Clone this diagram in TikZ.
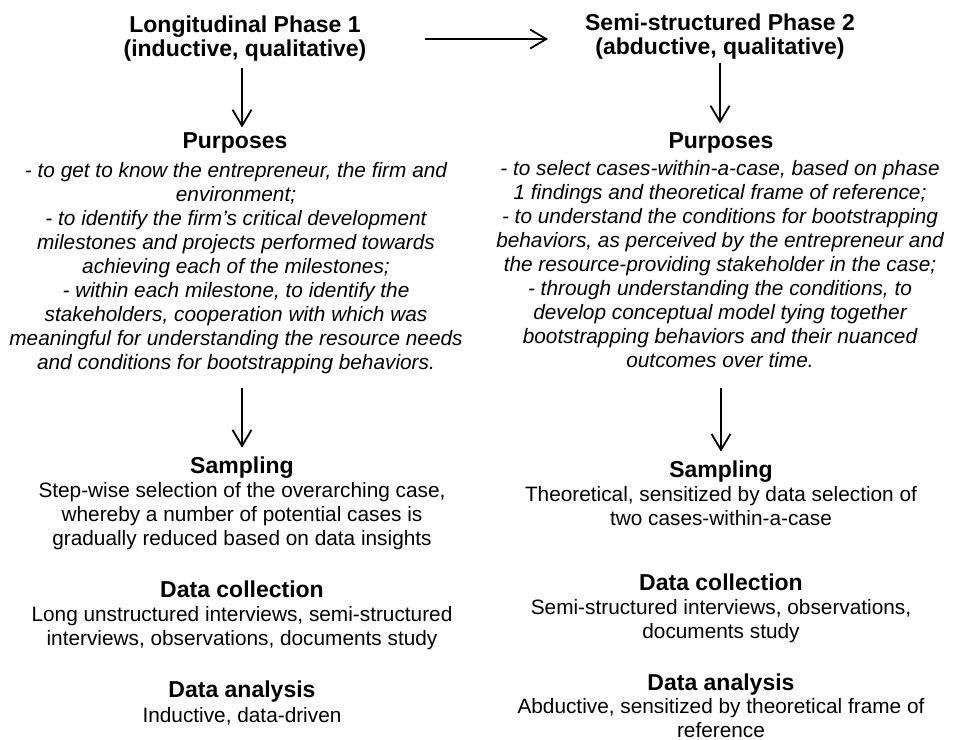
\documentclass[tikz,border=0pt]{standalone}
\usepackage{fontspec}
\setmainfont{Liberation Sans}
\usepackage{tikz}
\usetikzlibrary{
	arrows.meta,
	positioning,
	calc
}
\tikzset{
  % arrow
	cstra/.style      ={-{Straight Barb[length=16bp,width=19bp]}, line width=1.8bp}, % open arrow
  % node (anchored at the baseline of the last line)
	csthead/.style    ={inner sep=0pt, anchor=base, align=center, font=\fontsize{23bp}{24bp}\selectfont\bfseries}, % bold heading
	csttext/.style    ={inner sep=0pt, anchor=base, align=center, font=\fontsize{20.8bp}{24bp}\selectfont}, % plain text
	cstitem/.style    ={csttext, font=\fontsize{20.8bp}{24bp}\selectfont\itshape} % italic list
}

\begin{document}
\begin{tikzpicture}[x=1bp,y=-1bp]
	\useasboundingbox (0,0) rectangle (953,740);
	% phase 1
	\node[csthead] (title1) at (245,57) {Longitudinal Phase 1\\(inductive, qualitative)};
	\node[csthead] (purp1) at (235,148) {Purposes};
	\node[cstitem] (purp1t) at (236,369) {- to get to know the entrepreneur, the firm and\\
		environment;\\
		- to identify the firm’s critical development\\
		milestones and projects performed towards\\
		achieving each of the milestones;\\
		- within each milestone, to identify the\\
		stakeholders, cooperation with which was\\
		meaningful for understanding the resource needs\\
		and conditions for bootstrapping behaviors.};
	\node[csthead] (samp1) at (242,473) {Sampling};
	\node[csttext] (samp1t) at (242,545) {Step-wise selection of the overarching case,\\
		whereby a number of potential cases is\\
		gradually reduced based on data insights};
	\node[csthead] (coll1) at (242,597) {Data collection};
	\node[csttext] (coll1t) at (242,645) {Long unstructured interviews, semi-structured\\
		interviews, observations, documents study};
	\node[csthead] (anal1) at (242,697) {Data analysis};
	\node[csttext] (anal1t) at (242,722) {Inductive, data-driven};
	% phase 2
	\node[csthead] (title2) at (720,55) {Semi-structured Phase 2\\(abductive, qualitative)};
	\node[csthead] (purp2) at (721,148) {Purposes};
	\node[cstitem] (purp2t) at (720,367) {- to select cases-within-a-case, based on phase\\
		1 findings and theoretical frame of reference;\\
		- to understand the conditions for bootstrapping\\
		behaviors, as perceived by the entrepreneur and\\
		the resource-providing stakeholder in the case;\\
		- through understanding the conditions, to\\
		develop conceptual model tying together\\
		bootstrapping behaviors and their nuanced\\
		outcomes over time.};
	\node[csthead] (samp2) at (721,477) {Sampling};
	\node[csttext] (samp2t) at (721,525) {Theoretical, sensitized by data selection of\\
		two cases-within-a-case};
	\node[csthead] (coll2) at (721,590) {Data collection};
	\node[csttext] (coll2t) at (721,638) {Semi-structured interviews, observations,\\
		documents study};
	\node[csthead] (anal2) at (721,690) {Data analysis};
	\node[csttext] (anal2t) at (721,737) {Abductive, sensitized by theoretical frame of\\
		reference};
	% arrows
	\draw[cstra, yshift=-3bp, shorten <=58bp, shorten >=37bp] (title1.east) -- (title1.east -| title2.west);
	\draw[cstra, shorten <=6bp, shorten >=4.5bp] (title1.south -| samp1) -- (purp1.north -| samp1);
	\draw[cstra, shorten <=3bp, shorten >=8.5bp] (title2.south) -- (title2.south |- purp2.north);
	\draw[cstra, shorten <=14.5bp, shorten >=8.5bp] (purp1t.south -| samp1) -- (samp1.north);
	\draw[cstra, shorten <=20.6bp, shorten >=8.5bp] (purp2t.south -| samp2) -- (samp2.north);
\end{tikzpicture}
\end{document}
